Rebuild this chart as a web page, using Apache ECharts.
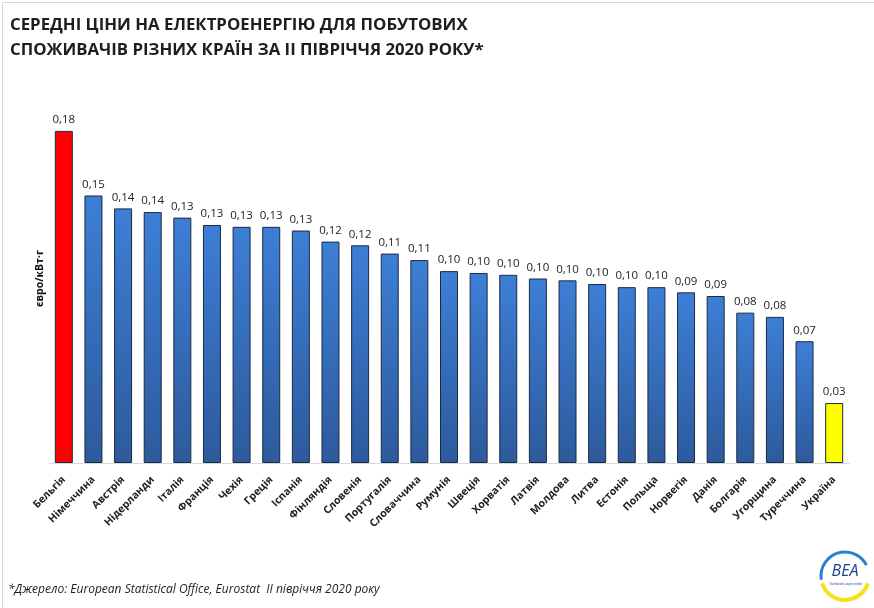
<!DOCTYPE html>
<html>
<head>
<meta charset="utf-8">
<script src="https://cdn.jsdelivr.net/npm/echarts@6/dist/echarts.min.js"></script>
<style>
html,body{margin:0;padding:0;background:#fff;}
#chart{width:874px;height:608px;}
</style>
</head>
<body>
<div id="chart"></div>
<script>
const countries = ['Бельгія','Німеччина','Австрія','Нідерланди','Італія','Франція','Чехія','Греція','Іспанія','Фінляндія','Словенія','Португалія','Словаччина','Румунія','Швеція','Хорватія','Латвія','Молдова','Литва','Естонія','Польща','Норвегія','Данія','Болгарія','Угорщина','Туреччина','Україна'];
const prices = [0.180,0.145,0.138,0.136,0.133,0.129,0.128,0.128,0.126,0.120,0.118,0.1135,0.110,0.104,0.103,0.102,0.100,0.099,0.097,0.0953,0.0953,0.0925,0.0905,0.0815,0.0792,0.066,0.0325];
const priceLabels = ['0,18','0,15','0,14','0,14','0,13','0,13','0,13','0,13','0,13','0,12','0,12','0,11','0,11','0,10','0,10','0,10','0,10','0,10','0,10','0,10','0,10','0,09','0,09','0,08','0,08','0,07','0,03'];
const yUnit = 'євро/кВт·г';
const titleLines = ['СЕРЕДНІ ЦІНИ НА ЕЛЕКТРОЕНЕРГІЮ ДЛЯ ПОБУТОВИХ','СПОЖИВАЧІВ РІЗНИХ КРАЇН ЗА ІІ ПІВРІЧЧЯ 2020 РОКУ*'];
const sourceNote = '*Джерело: European Statistical Office, Eurostat  II півріччя 2020 року';

const blue = new echarts.graphic.LinearGradient(0,0,0,1,[{offset:0,color:'#3d7fd6'},{offset:1,color:'#2d5a9c'}]);
const special = {'Бельгія':'#ff0000','Україна':'#ffff00'};

const chart = echarts.init(document.getElementById('chart'));
chart.setOption({
  backgroundColor:'#ffffff',
  animation:false,
  title:{
    text: titleLines.join('\n'),
    left:5, top:8,
    textStyle:{fontFamily:'Open Sans',fontWeight:'bold',fontSize:16.8,color:'#1e1e1e',lineHeight:25}
  },
  grid:{left:49, right:25, top:94, bottom:145},
  xAxis:{
    type:'category',
    data:countries,
    axisLine:{lineStyle:{color:'#d9d9d9',width:1}},
    axisTick:{show:false},
    axisLabel:{rotate:45, interval:0, margin:15, fontFamily:'Open Sans', fontWeight:'bold', fontSize:10.5, color:'#222'}
  },
  yAxis:{
    type:'value', min:0, max:0.2,
    name:yUnit, nameLocation:'middle', nameGap:3, nameRotate:90,
    nameTextStyle:{fontFamily:'Open Sans',fontWeight:'bold',fontSize:10.5,color:'#111'},
    axisLine:{show:false}, axisTick:{show:false}, axisLabel:{show:false}, splitLine:{show:false}
  },
  series:[{
    type:'bar',
    data: prices.map((v,i)=>({value:v, itemStyle:{color: special[countries[i]] || blue}})),
    barWidth:18,
    itemStyle:{borderColor:'#1c2a40', borderWidth:1},
    label:{show:true, position:'top', distance:5, fontFamily:'Open Sans', fontSize:11.5, color:'#222',
      formatter:p=>priceLabels[p.dataIndex]}
  }],
  graphic:[
    {type:'rect', left:0, top:0, shape:{width:873, height:607}, style:{fill:'none', stroke:'#d6d6d6', lineWidth:1}, silent:true},
    {type:'text', left:8, top:584, style:{text:sourceNote, font:'italic 12px "Open Sans"', fill:'#1e1e1e'}},
    {type:'arc', shape:{cx:845, cy:576, r:24, startAngle:Math.PI*0.95, endAngle:Math.PI*1.85}, style:{stroke:'#2a7fd0', lineWidth:3, fill:'none'}},
    {type:'arc', shape:{cx:845, cy:576, r:24, startAngle:Math.PI*0.1, endAngle:Math.PI*0.9}, style:{stroke:'#f5e21a', lineWidth:4, fill:'none'}},
    {type:'text', x:845, y:571, style:{text:'BEA', font:'italic 16px "Open Sans"', fill:'#1f3f8c', align:'center', verticalAlign:'middle'}},
    {type:'text', x:846, y:584, style:{text:'Fortitudo experientia', font:'italic 3.5px "Open Sans"', fill:'#1f3f8c', align:'center', verticalAlign:'middle'}}
  ]
});
</script>
</body>
</html>
